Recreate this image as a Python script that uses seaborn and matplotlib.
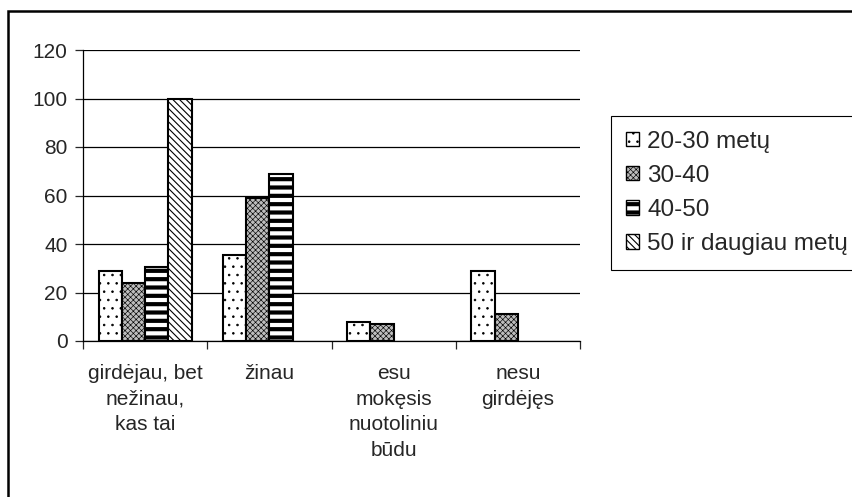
import pandas as pd
import numpy as np
import seaborn as sns
import matplotlib.pyplot as plt
from matplotlib.patches import Rectangle

# answers and age groups
categories = ["girdėjau, bet\nnežinau,\nkas tai", "žinau",
              "esu\nmokęsis\nnuotoliniu\nbūdu", "nesu\ngirdėjęs"]
groups = ["20-30 metų", "30-40", "40-50", "50 ir daugiau metų"]
v_20_30 = [29, 35.5, 7.8, 29]
v_30_40 = [24, 59, 7, 11]
v_40_50 = [30.5, 69, 0, 0]
v_50 = [100, 0, 0, 0]
yticks = [0, 20, 40, 60, 80, 100, 120]

rows = []
for g, vals in zip(groups, [v_20_30, v_30_40, v_40_50, v_50]):
    for c, v in zip(categories, vals):
        rows.append({"Atsakymas": c, "Grupė": g, "Procentai": v})
DATA = pd.DataFrame(rows)

sns.set_style("white")
plt.rcParams["font.family"] = ["Liberation Sans", "DejaVu Sans"]
plt.rcParams["hatch.linewidth"] = 0.8

fig = plt.figure(figsize=(8.53, 4.97), dpi=100)
ax = fig.add_axes([83 / 853, 1 - 341 / 497, (580 - 83) / 853, (341 - 50) / 497])

sns.barplot(data=DATA, x="Atsakymas", y="Procentai", hue="Grupė", order=categories,
            hue_order=groups, width=0.75, ax=ax, edgecolor="black", linewidth=1.5,
            palette=["white", "#a8a8a8", "white", "white"], legend=True)

styles = {"20-30 metų": ("white", "..", 0.6),
          "30-40": ("#bdbdbd", "xxxxxx", 0.45),
          "40-50": ("white", "--", 3.0),
          "50 ir daugiau metų": ("white", "\\\\\\\\\\", 0.8)}


def paint(p, g):
    fc, hatch, hlw = styles[g]
    p.set_facecolor(fc)
    p.set_hatch(hatch)
    if hasattr(p, "set_hatch_linewidth"):
        p.set_hatch_linewidth(hlw)


for cont, g in zip(ax.containers, groups):
    for p in cont.patches:
        paint(p, g)
        if p.get_height() == 0:
            p.set_linewidth(0)
            p.set_hatch("")

ax.set_ylim(0, 120)
ax.set_yticks(yticks)
ax.set_xlim(-0.5, 3.5)
ax.grid(axis="y", color="black", linewidth=0.9)
ax.set_axisbelow(True)
for s in ["top", "right"]:
    ax.spines[s].set_visible(False)
for s in ["left", "bottom"]:
    ax.spines[s].set_color("black")
    ax.spines[s].set_linewidth(0.9)
ax.set_xlabel("")
ax.set_ylabel("")
ax.tick_params(axis="y", left=True, length=6, width=0.9, labelsize=15, pad=5)
ax.tick_params(axis="x", bottom=False, labelsize=15, pad=13)
ax.set_xticks([-0.5, 0.5, 1.5, 2.5, 3.5], minor=True)
ax.tick_params(axis="x", which="minor", bottom=True, length=6, width=0.9)
for t in ax.get_xticklabels():
    t.set_linespacing(1.45)
    t.set_verticalalignment("top")

handles, labels = ax.get_legend_handles_labels()
for h, g in zip(handles, groups):
    paint(h, g)
    h.set_edgecolor("black")
    h.set_linewidth(1.0)
leg = ax.legend(handles, labels, loc="upper left", bbox_to_anchor=(611 / 853, 1 - 116 / 497),
                bbox_transform=fig.transFigure, fontsize=17.5, frameon=True, fancybox=False,
                edgecolor="black", framealpha=1, handlelength=0.55, handleheight=0.55,
                handletextpad=0.35, labelspacing=0.5, borderpad=0.6, borderaxespad=0)
leg.get_frame().set_linewidth(0.8)
for h, g in zip(leg.get_patches(), groups):
    paint(h, g)

fig.patches.append(Rectangle((8 / 853, -0.1), 1.2, 1 - 11 / 497 + 0.1,
                             transform=fig.transFigure, fill=False,
                             edgecolor="black", linewidth=1.8))

fig.savefig("out.png", dpi=100)
